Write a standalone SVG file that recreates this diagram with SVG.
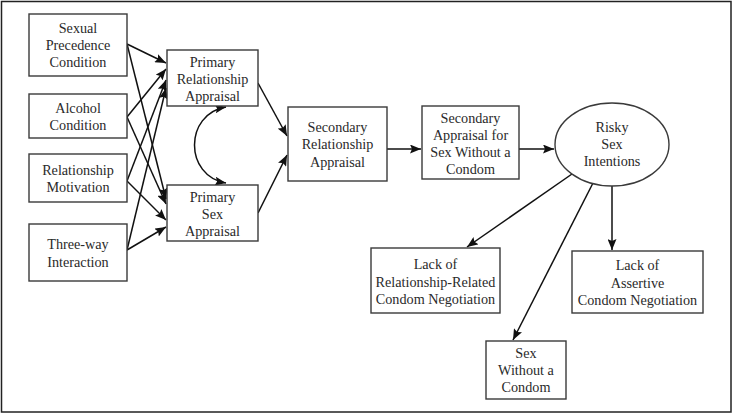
<svg xmlns="http://www.w3.org/2000/svg" width="733" height="414" viewBox="0 0 733 414">
<style>
.box{fill:#fff;stroke:#3a3a3a;stroke-width:1.4}
.t{font-family:"Liberation Serif","Times New Roman",serif;font-size:14.2px;fill:#2a2a2a;text-anchor:middle}
.c{fill:none;stroke:#111;stroke-width:1.5}
</style>
<defs>
<marker id="ah" markerUnits="userSpaceOnUse" markerWidth="12" markerHeight="9" refX="11" refY="4.5" orient="auto-start-reverse">
<path d="M0,0 L11,4.5 L0,9 L2,4.5 z" fill="#111"/>
</marker>
</defs>
<rect x="0" y="0" width="733" height="414" fill="#fff"/>
<rect x="1.5" y="1.5" width="729.5" height="410.5" fill="none" stroke="#222" stroke-width="1.5"/>

<g id="connectors">
<line class="c" x1="127" y1="44" x2="166" y2="63" marker-end="url(#ah)"/>
<line class="c" x1="127" y1="44" x2="166" y2="199" marker-end="url(#ah)"/>
<line class="c" x1="127" y1="117" x2="166" y2="69" marker-end="url(#ah)"/>
<line class="c" x1="127" y1="117" x2="166" y2="204" marker-end="url(#ah)"/>
<line class="c" x1="127" y1="181" x2="166" y2="80" marker-end="url(#ah)"/>
<line class="c" x1="127" y1="181" x2="166" y2="220" marker-end="url(#ah)"/>
<line class="c" x1="127" y1="250" x2="166" y2="88" marker-end="url(#ah)"/>
<line class="c" x1="127" y1="250" x2="166" y2="227" marker-end="url(#ah)"/>
<path class="c" d="M226,107 C184,114 184,176 226,183" marker-start="url(#ah)" marker-end="url(#ah)"/>
<line class="c" x1="258" y1="83" x2="287" y2="136" marker-end="url(#ah)"/>
<line class="c" x1="258" y1="213" x2="287" y2="155" marker-end="url(#ah)"/>
<line class="c" x1="387" y1="149" x2="421" y2="149" marker-end="url(#ah)"/>
<line class="c" x1="519" y1="149" x2="554" y2="149" marker-end="url(#ah)"/>
<line class="c" x1="572" y1="174" x2="467" y2="247" marker-end="url(#ah)"/>
<line class="c" x1="593" y1="183" x2="513" y2="340" marker-end="url(#ah)"/>
<line class="c" x1="612" y1="186" x2="612" y2="250" marker-end="url(#ah)"/>
</g>

<g id="sexual-precedence">
<rect class="box" x="29" y="14" width="98" height="62"/>
<text class="t" x="78" y="33">Sexual</text>
<text class="t" x="78" y="50">Precedence</text>
<text class="t" x="78" y="67">Condition</text>
</g>
<g id="alcohol">
<rect class="box" x="29" y="94" width="98" height="44"/>
<text class="t" x="78" y="112.5">Alcohol</text>
<text class="t" x="78" y="130">Condition</text>
</g>
<g id="relationship-motivation">
<rect class="box" x="29" y="154" width="98" height="48"/>
<text class="t" x="78" y="175">Relationship</text>
<text class="t" x="78" y="192">Motivation</text>
</g>
<g id="three-way">
<rect class="box" x="29" y="224" width="98" height="57"/>
<text class="t" x="78" y="249">Three-way</text>
<text class="t" x="78" y="266.5">Interaction</text>
</g>
<g id="primary-relationship">
<rect class="box" x="167" y="50" width="91" height="56"/>
<text class="t" x="212.5" y="66.5">Primary</text>
<text class="t" x="212.5" y="83.5">Relationship</text>
<text class="t" x="212.5" y="100.5">Appraisal</text>
</g>
<g id="primary-sex">
<rect class="box" x="167" y="185" width="91" height="56"/>
<text class="t" x="212.5" y="202">Primary</text>
<text class="t" x="212.5" y="219">Sex</text>
<text class="t" x="212.5" y="236">Appraisal</text>
</g>
<g id="secondary-relationship">
<rect class="box" x="288" y="107" width="99" height="74"/>
<text class="t" x="337.5" y="132">Secondary</text>
<text class="t" x="337.5" y="149">Relationship</text>
<text class="t" x="337.5" y="166.5">Appraisal</text>
</g>
<g id="secondary-sex">
<rect class="box" x="422" y="106" width="97" height="73"/>
<text class="t" x="470.5" y="122.5">Secondary</text>
<text class="t" x="470.5" y="139.5">Appraisal for</text>
<text class="t" x="470.5" y="156.5">Sex Without a</text>
<text class="t" x="470.5" y="174">Condom</text>
</g>
<g id="risky-sex">
<ellipse class="box" cx="612" cy="144.5" rx="57" ry="41.5"/>
<text class="t" x="612" y="131.5">Risky</text>
<text class="t" x="612" y="148.5">Sex</text>
<text class="t" x="612" y="166">Intentions</text>
</g>
<g id="lack-relationship">
<rect class="box" x="371" y="248" width="129" height="65"/>
<text class="t" x="435.5" y="269">Lack of</text>
<text class="t" x="435.5" y="286.5">Relationship-Related</text>
<text class="t" x="435.5" y="304">Condom Negotiation</text>
</g>
<g id="lack-assertive">
<rect class="box" x="572" y="251" width="131" height="62"/>
<text class="t" x="637.5" y="270">Lack of</text>
<text class="t" x="637.5" y="287.5">Assertive</text>
<text class="t" x="637.5" y="305">Condom Negotiation</text>
</g>
<g id="sex-without">
<rect class="box" x="486" y="341" width="80" height="58"/>
<text class="t" x="526" y="358">Sex</text>
<text class="t" x="526" y="375">Without a</text>
<text class="t" x="526" y="392">Condom</text>
</g>
</svg>
